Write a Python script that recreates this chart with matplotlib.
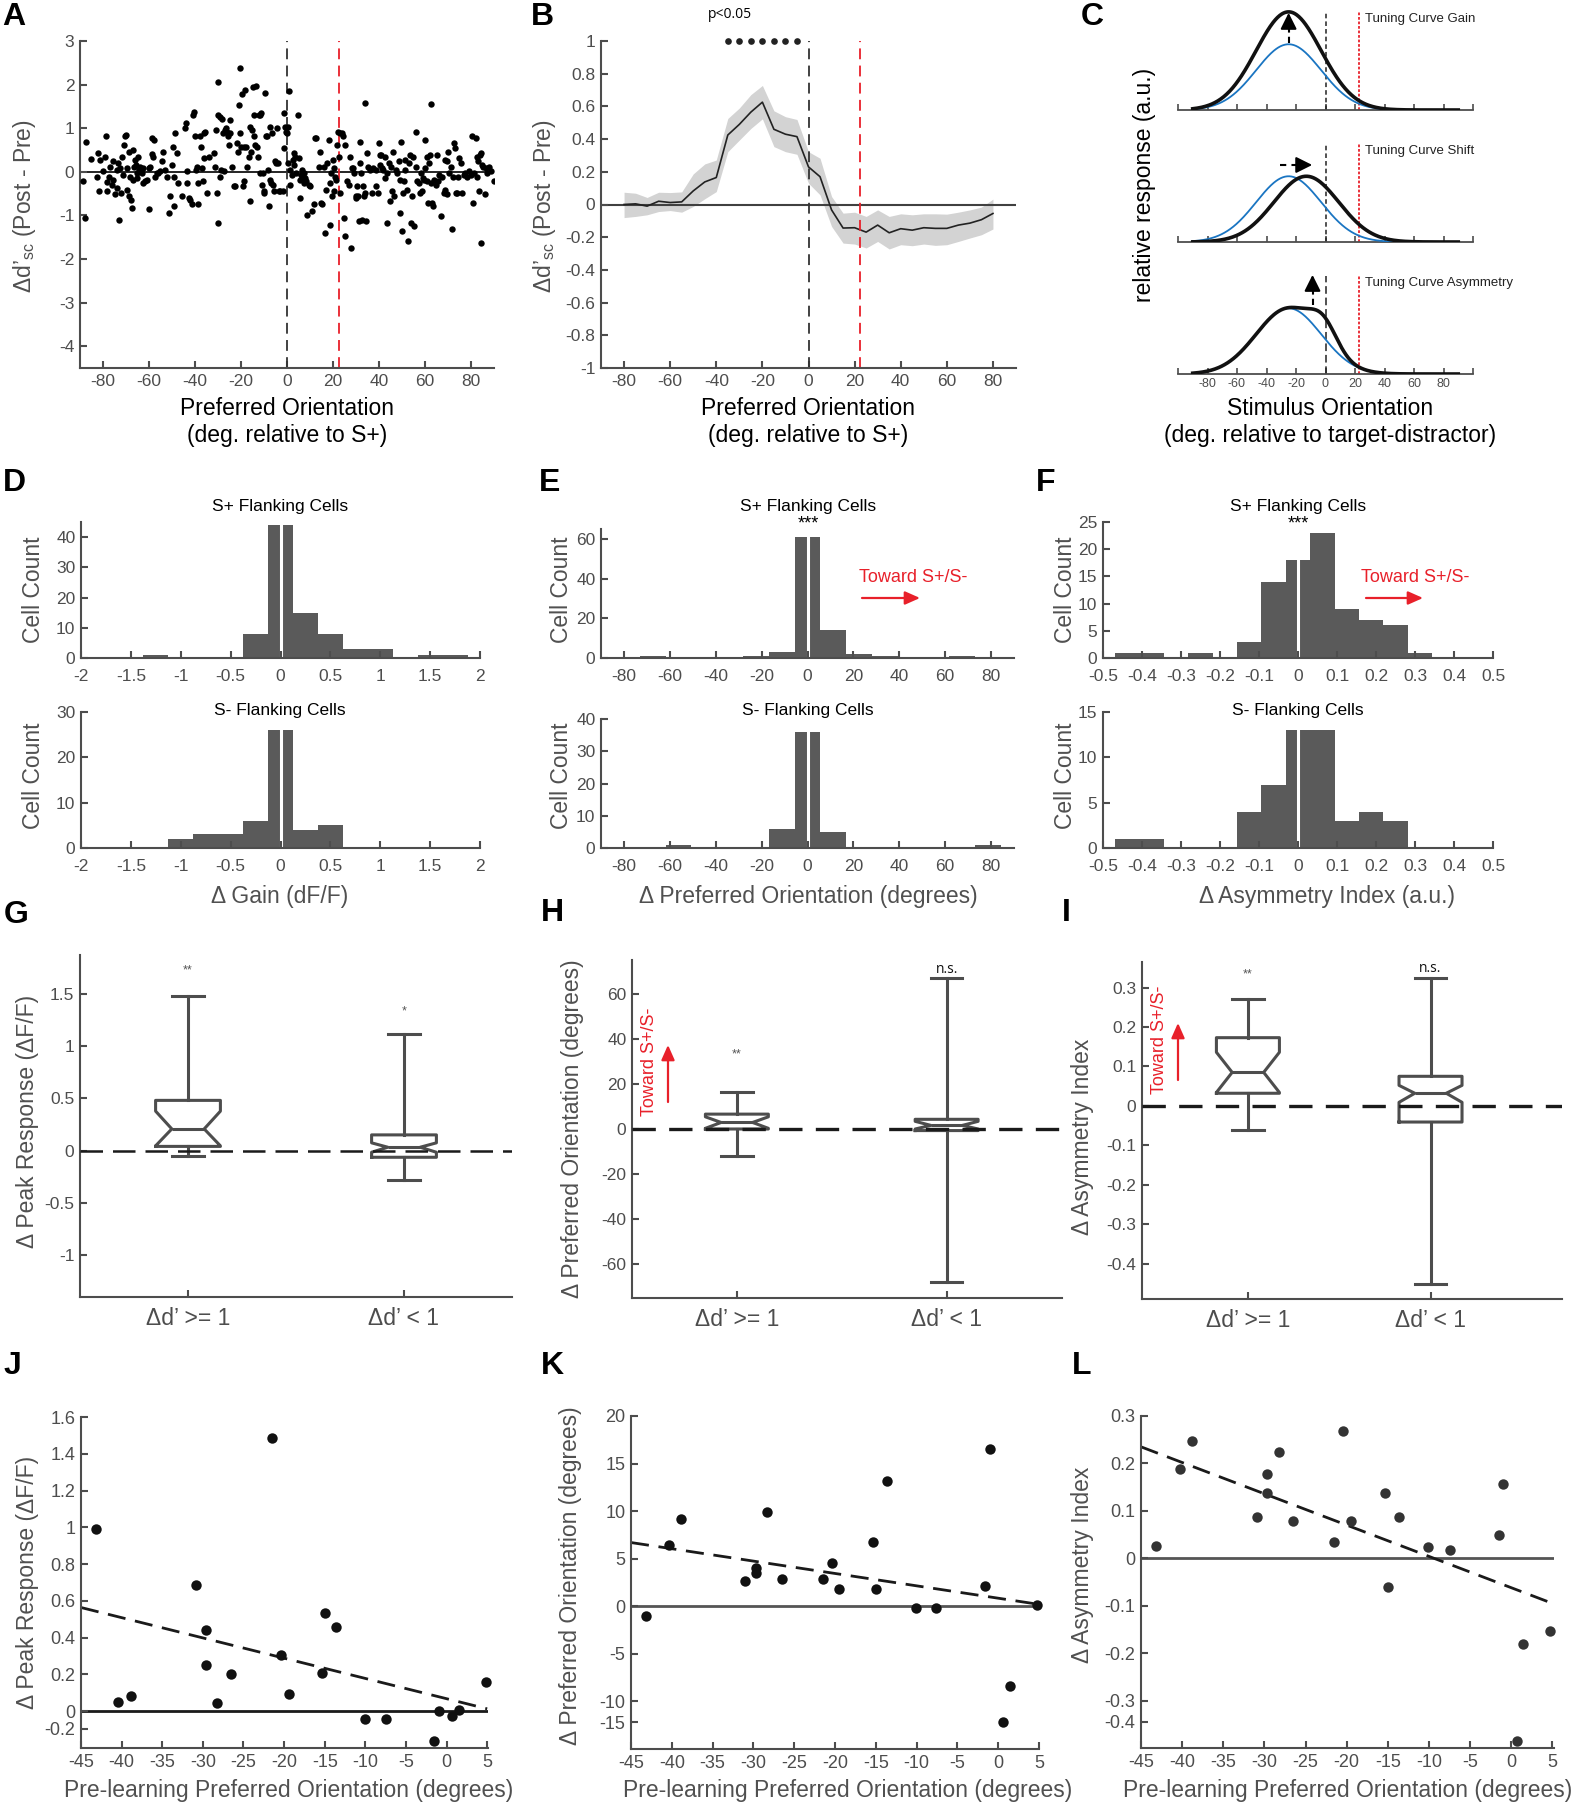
import numpy as np
import matplotlib
matplotlib.use('Agg')
import matplotlib.pyplot as plt
from matplotlib.ticker import FuncFormatter

plt.rcParams['font.family'] = ['Liberation Sans', 'DejaVu Sans']
plt.rcParams['axes.unicode_minus'] = False
plt.rcParams['mathtext.fontset'] = 'custom'
plt.rcParams['mathtext.rm'] = 'Liberation Sans'

""" **************************** data ****************************"""
# A: delta d' per cell vs preferred orientation
a_pref = [-88.5, -87.8, -87.4, -85.3, -82.7, -82.3, -81.6, -81.3, -79.8, -79.1, -78.7, -78.4, -78.1, -77.6,
          -76.9, -76.2, -75.8, -75.5, -74.7, -74.0, -73.7, -73.3, -73.0, -72.6, -72.3, -71.8, -71.1, -70.8,
          -70.4, -70.0, -69.7, -69.4, -68.9, -68.5, -68.2, -67.9, -67.5, -67.1, -66.8, -66.5, -66.0, -65.6,
          -65.3, -65.0, -64.6, -64.2, -63.9, -63.1, -62.7, -62.4, -61.7, -61.0, -60.2, -59.8, -59.5, -58.8,
          -58.5, -58.1, -57.8, -57.3, -56.6, -55.9, -55.2, -54.4, -54.0, -53.0, -52.2, -51.5, -50.8, -50.1,
          -49.6, -49.3, -49.1, -48.6, -47.9, -47.2, -45.7, -44.3, -43.8, -43.5, -43.3, -42.8, -42.1, -41.4,
          -40.9, -40.3, -39.9, -39.5, -39.2, -38.9, -38.5, -37.7, -37.4, -37.0, -36.6, -36.3, -36.0, -35.6,
          -34.8, -34.1, -31.9, -31.2, -30.8, -30.5, -30.2, -29.8, -29.8, -29.3, -29.0, -28.7, -28.3, -27.9,
          -27.3, -26.9, -26.4, -26.1, -25.8, -25.4, -25.0, -24.7, -23.9, -23.2, -22.5, -21.8, -21.5, -21.0,
          -20.6, -20.3, -20.0, -19.6, -19.2, -18.9, -18.6, -18.1, -17.7, -17.4, -16.7, -16.3, -16.0, -15.7,
          -15.2, -14.8, -14.5, -14.2, -13.8, -13.4, -13.1, -12.8, -12.3, -11.9, -11.6, -11.3, -10.9, -10.4,
          -10.2, -9.9, -9.4, -9.0, -8.7, -8.4, -8.0, -7.5, -7.3, -7.0, -6.5, -6.1, -5.8, -5.1, -4.6, -4.4,
          -4.1, -3.6, -2.9, -1.7, -1.5, -1.2, -0.7, -0.3, 0.0, 0.3, 0.6, 0.9, 1.2, 1.5, 2.2, 2.6, 2.9, 3.2,
          3.6, 4.1, 4.6, 5.1, 5.5, 5.8, 6.1, 6.5, 7.0, 7.3, 7.5, 8.0, 8.4, 8.7, 9.4, 10.2, 10.9, 11.6, 12.3,
          12.8, 13.8, 14.5, 14.8, 15.2, 16.0, 16.7, 17.1, 17.4, 18.1, 18.6, 18.9, 19.2, 19.6, 20.0, 20.3,
          20.6, 21.0, 21.5, 21.8, 22.1, 22.5, 22.9, 23.2, 23.9, 24.4, 24.7, 25.1, 25.4, 26.1, 26.9, 27.6,
          27.9, 28.3, 28.7, 29.3, 29.8, 30.2, 30.5, 30.8, 31.2, 31.6, 31.9, 32.2, 32.7, 33.1, 33.4, 33.8,
          34.1, 34.4, 34.8, 35.1, 36.3, 37.0, 37.4, 38.5, 38.9, 39.5, 39.9, 40.3, 40.6, 40.9, 41.4, 41.8,
          42.4, 42.8, 43.3, 43.5, 44.3, 44.7, 45.0, 45.7, 46.2, 46.4, 47.2, 47.9, 48.6, 49.1, 49.3, 49.6,
          50.1, 50.5, 50.8, 51.1, 51.5, 52.0, 52.5, 53.0, 53.4, 54.0, 54.4, 54.9, 55.2, 55.9, 56.3, 56.6,
          57.3, 57.8, 58.3, 58.8, 59.2, 59.5, 59.8, 60.2, 60.7, 61.0, 61.2, 61.7, 62.1, 62.4, 62.7, 63.1,
          63.6, 63.9, 64.6, 65.3, 65.6, 66.0, 66.8, 67.5, 68.2, 68.5, 68.9, 69.4, 69.7, 70.0, 70.4, 71.1,
          71.8, 72.3, 72.6, 72.9, 73.3, 73.7, 74.3, 74.7, 75.5, 76.2, 76.9, 77.6, 78.4, 79.1, 79.8, 80.6,
          81.0, 81.3, 82.0, 82.4, 82.7, 83.0, 83.5, 83.7, 84.2, 84.5, 84.9, 85.3, 85.9, 86.4, 87.1, 87.8,
          88.5, 90.0]
a_dd = [-0.22, -1.06, 0.68, 0.30, -0.11, 0.43, -0.45, 0.27, 0.01, 0.35, 0.81, -0.24, -0.45, -0.11,
        0.12, -0.30, 0.24, -0.18, -0.52, -0.37, 0.05, 0.20, -1.10, 0.08, -0.49, 0.35, -0.07, 0.62,
        0.81, 0.84, -0.41, 0.08, -0.56, 0.46, -0.11, -0.64, -0.83, -0.18, 0.50, 0.12, 0.27, 0.16,
        -0.14, -0.03, 0.35, 0.05, 0.12, -0.03, -0.26, 0.08, -0.22, -0.18, 0.08, -0.85, 0.12, 0.77,
        0.41, 0.35, 0.73, -0.11, -0.03, -0.03, 0.01, 0.24, 0.46, 0.05, -0.11, -0.94, -0.56, 0.16,
        0.58, -0.11, -0.79, 0.88, 0.43, -0.26, -0.56, 1.00, 1.11, 0.01, -0.26, -0.60, -0.64, -0.75,
        1.30, 1.38, 0.81, 0.05, 0.12, -0.75, -0.26, 0.81, 0.58, 0.08, -0.22, 0.88, 0.31, 0.92,
        -0.49, 0.35, 0.43, 0.12, 0.96, -0.49, -1.17, 2.06, 1.30, -0.11, 1.26, 0.05, 1.22, 0.88,
        0.01, 0.96, 1.00, 0.92, 0.81, 0.62, 1.19, 0.88, 0.12, -0.33, -0.33, 0.65, 0.46, 1.53,
        2.37, 0.88, 0.58, 1.79, -0.33, 0.58, -0.22, 1.87, 0.58, 0.12, 0.35, -0.68, 1.03, 0.46,
        0.96, 1.95, 1.30, 0.81, 0.62, 1.96, 0.58, 0.35, 1.30, -0.03, 1.30, 1.34, -0.30, -0.03,
        -0.49, -0.45, 1.81, 0.81, 0.81, 0.05, -0.79, 1.03, -0.18, -0.26, 0.88, -0.30, -0.45, 0.24, 0.20, 1.00,
        0.20, -0.45, -0.45, -0.45, 1.34, 0.54, 1.03, 0.92, 0.88, 0.20, 1.03, 1.86, -0.30, 0.05, -0.07, 0.27, 0.43, 0.16,
        0.35, -0.03, 1.30, 0.31, -0.18, -0.60, -0.07, 0.05, -0.14, -0.03, -0.26, -0.14, -0.22, -0.98, -0.30, -0.33, -0.90, -0.75, 0.77,
        0.78, 0.12, 0.46, -0.71, -0.75, 0.12, -1.40, -0.41, 0.20, 0.73, -1.21, -0.26, -0.03, -0.56, 0.27, -0.45,
        0.08, -0.11, -0.18, 0.62, 0.92, 0.35, 0.88, -0.49, 0.88, 0.81, -1.06, -1.48, 0.62, -0.22, -0.30, 0.35,
        -1.74, 0.08, 0.08, -0.03, -0.56, -0.60, -0.33, -0.56, -1.13, 0.69, 0.20, -0.03, -1.10, -0.33, -0.56, 1.57,
        -0.49, -1.13, 0.43, 0.12, 0.05, -0.49, 0.08, 0.05, -0.33, -0.49, 0.65, 0.39, 0.16, 0.39, 0.08, 0.05,
        -0.14, 0.35, -0.03, -1.17, 0.20, -0.68, 0.12, -0.45, 0.46, -0.56, 0.05, -0.03, 0.24, -0.18, -0.94, 0.69,
        -1.36, -0.49, -0.22, 0.05, 0.27, -0.41, -1.59, 0.20, 0.39, -1.17, -0.56, 0.35, -1.25, 0.92, 0.12, -0.22,
        -0.26, -0.49, -0.03, -0.45, -0.14, -0.18, 0.73, 0.08, 0.35, -0.22, -0.71, 0.20, 0.39, -0.26, 1.55, -0.71,
        -0.79, -0.18, -0.30, 0.39, -0.22, -0.07, -1.02, -0.11, -0.49, 0.27, -0.41, 0.24, -0.52, 0.46, -0.03, 0.12,
        -1.32, -0.11, 0.65, 0.54, -0.49, -0.49, -0.11, 0.31, 0.20, -0.49, -0.07, -0.03, -0.11, 0.01, -0.07, 0.81,
        -0.71, -0.03, 0.77, -0.11, 0.35, 0.24, -0.45, 0.39, 0.43, -1.63, 0.16, 0.12, -0.52, 0.08, -0.03, 0.12,
        0.01, -0.22]

# B: mean +- sem of delta d' in 5 deg bins
b_ori = [-80, -75, -70, -65, -60, -55, -50, -45, -40, -35, -30, -25, -20, -15, -10, -5, 0,
         5, 10, 15, 20, 25, 30, 35, 40, 45, 50, 55, 60, 65, 70, 75, 80]
b_mean = [0.0, 0.004, -0.01, 0.02, 0.012, 0.016, 0.083, 0.138, 0.165, 0.425, 0.49, 0.565, 0.626,
          0.46, 0.43, 0.415, 0.23, 0.17, -0.033, -0.144, -0.142, -0.169, -0.126, -0.173, -0.148,
          -0.157, -0.142, -0.146, -0.146, -0.126, -0.114, -0.093, -0.055]
b_upper = [0.075, 0.069, 0.043, 0.075, 0.073, 0.077, 0.187, 0.248, 0.272, 0.526, 0.59, 0.672, 0.728,
           0.573, 0.537, 0.52, 0.323, 0.283, 0.049, -0.053, -0.047, -0.073, -0.033, -0.073, -0.057,
           -0.063, -0.057, -0.057, -0.059, -0.047, -0.033, -0.016, 0.033]
b_lower = [-0.08, -0.073, -0.063, -0.043, -0.037, -0.047, -0.012, 0.035, 0.079, 0.323, 0.394, 0.465,
           0.524, 0.354, 0.323, 0.307, 0.13, 0.059, -0.134, -0.236, -0.242, -0.266, -0.226, -0.272,
           -0.246, -0.252, -0.242, -0.25, -0.246, -0.226, -0.205, -0.185, -0.15]
b_sig = [-35, -30, -25, -20, -15, -10, -5]

# C: schematic tuning curves (gaussian parameters)
c_pre_center, c_pre_amp, c_width = -25, 0.67, 22
c_gain_amp = 1.0
c_shift_center = -13
c_bump_center, c_bump_amp, c_bump_width = -1, 0.22, 9

# D/E/F: histograms (bin centres, counts)
d_bw = 0.25
d_top_c = [-1.25, -0.25, 0, 0.25, 0.5, 0.75, 1.0, 1.5, 1.75]
d_top_n = [1, 8, 44, 15, 8, 3, 3, 1, 1]
d_bot_c = [-1.0, -0.75, -0.5, -0.25, 0, 0.25, 0.5]
d_bot_n = [2, 3, 3, 6, 26, 4, 5]
e_bw = 11.25
e_top_c = [-67.5, -22.5, -11.25, 0, 11.25, 22.5, 33.75, 67.5]
e_top_n = [1, 1, 3, 61, 14, 2, 1, 1]
e_bot_c = [-56.25, -11.25, 0, 11.25, 78.75]
e_bot_n = [1, 6, 36, 5, 1]
f_bw = 0.0625
f_top_c = [-0.4375, -0.375, -0.25, -0.125, -0.0625, 0, 0.0625, 0.125, 0.1875, 0.25, 0.3125]
f_top_n = [1, 1, 1, 3, 14, 18, 23, 9, 7, 6, 1]
f_bot_c = [-0.4375, -0.375, -0.125, -0.0625, 0, 0.0625, 0.125, 0.1875, 0.25]
f_bot_n = [1, 1, 4, 7, 13, 13, 3, 4, 3]

# G/H/I: notched box summaries for [d' >= 1, d' < 1]
box_labels = ['Δd’ >= 1', 'Δd’ < 1']
g_q1, g_q3, g_med = [0.04, -0.064], [0.48, 0.15], [0.207, 0.032]
g_cilo, g_cihi = [0.045, -0.016], [0.377, 0.074]
g_lo, g_hi = [-0.05, -0.28], [1.48, 1.11]
h_q1, h_q3, h_med = [0.0, -0.7], [6.6, 4.3], [2.9, 1.6]
h_cilo, h_cihi = [0.3, 0.0], [5.4, 3.4]
h_lo, h_hi = [-12.2, -68.1], [16.5, 67.2]
i_q1, i_q3, i_med = [0.032, -0.041], [0.173, 0.075], [0.085, 0.032]
i_cilo, i_cihi = [0.034, 0.009], [0.136, 0.052]
i_lo, i_hi = [-0.061, -0.452], [0.27, 0.325]

# J/K/L: per-cell change vs pre-learning preferred orientation
j_x = [-43.2, -40.4, -38.8, -30.9, -29.6, -29.6, -28.3, -26.5, -21.5, -20.4, -19.4, -15.0, -15.3,
       -13.6, -10.0, -7.5, -1.5, -0.9, 0.7, 1.5, 4.8]
j_y = [0.99, 0.049, 0.081, 0.685, 0.44, 0.253, 0.042, 0.2, 1.486, 0.306, 0.094, 0.532, 0.21,
       0.459, -0.045, -0.042, -0.163, 0.0, -0.024, 0.004, 0.161]
k_x = [-43.2, -40.3, -38.9, -31.0, -29.7, -29.7, -28.3, -26.5, -21.5, -20.4, -19.5, -15.3, -15.0,
       -13.6, -10.1, -7.6, -1.6, -1.0, 0.6, 1.4, 4.7]
k_y = [-1.0, 6.4, 9.16, 2.63, 4.04, 3.54, 9.9, 2.9, 2.9, 4.56, 1.86, 6.8, 1.86,
       13.16, -0.18, -0.18, 2.14, 16.5, -12.2, -8.4, 0.1]
l_x = [-43.2, -40.3, -38.85, -30.9, -29.7, -29.7, -28.25, -26.5, -21.5, -20.4, -19.5, -15.3, -15.0,
       -13.6, -10.1, -7.5, -1.5, -1.0, 0.75, 1.45, 4.7]
l_y = [0.026, 0.1875, 0.247, 0.087, 0.178, 0.138, 0.225, 0.079, 0.035, 0.269, 0.079, 0.138, -0.06,
       0.086, 0.024, 0.017, 0.05, 0.157, -0.385, -0.18, -0.153]
fit_x = [-45, 5]
j_fit = [0.564, 0.013]
k_fit = [6.7, 0.2]
l_fit = [0.235, -0.095]

""" **************************** figure helpers ****************************"""
W, H = 1593, 1803
GRAY = '#4d4d4d'
LAB = '#505050'
BAR = '#5a5a5a'
RED = '#e8202a'
BLUE = '#1a75c2'

fig = plt.figure(figsize=(W / 100, H / 100), dpi=100)


def px_ax(l, t, r, b):
    return fig.add_axes([l / W, 1 - b / H, (r - l) / W, (b - t) / H])


def fpos(x, y):
    return (x / W, 1 - y / H)


def ftext(x, y, s, **kw):
    kw.setdefault('ha', 'center')
    kw.setdefault('va', 'center')
    return fig.text(x / W, 1 - y / H, s, **kw)


def farrow(x0, y0, x1, y1, color=RED):
    fig.add_artist(matplotlib.patches.FancyArrowPatch(
        fpos(x0, y0), fpos(x1, y1), transform=fig.transFigure,
        arrowstyle='-|>,head_width=4,head_length=9', color=color, lw=1.6,
        shrinkA=0, shrinkB=0))


fmt = FuncFormatter(lambda v, p: f'{v:g}')


def style(ax, size=12.5):
    ax.spines['top'].set_visible(False)
    ax.spines['right'].set_visible(False)
    for s in ('left', 'bottom'):
        ax.spines[s].set_color(GRAY)
        ax.spines[s].set_linewidth(1.5)
    ax.tick_params(direction='in', colors=GRAY, labelsize=size, width=1.5, length=5, pad=4)
    ax.xaxis.set_major_formatter(fmt)
    ax.yaxis.set_major_formatter(fmt)


letters = [('A', 14, 17), ('B', 542, 17), ('C', 1092, 17),
           ('D', 14, 483), ('E', 550, 483), ('F', 1046, 483),
           ('G', 16, 915), ('H', 552, 913), ('I', 1066, 913),
           ('J', 12, 1366), ('K', 552, 1366), ('L', 1082, 1366)]
for s, x, y in letters:
    ftext(x, y, s, fontsize=23, fontweight='bold', color='k')

""" **************************** A ****************************"""
axA = px_ax(80, 41, 494, 368)
style(axA)
axA.axhline(0, color='k', lw=1.2, zorder=1)
axA.axvline(0, color='#333333', lw=1.3, dashes=(6, 3.5))
axA.axvline(22.5, color=RED, lw=1.3, dashes=(6, 3.5))
axA.plot(a_pref, a_dd, 'o', color='k', ms=4.6, mec='none', zorder=3)
axA.set_xlim(-90, 90)
axA.set_ylim(-4.5, 3)
axA.set_xticks([-80, -60, -40, -20, 0, 20, 40, 60, 80])
axA.set_yticks([-4, -3, -2, -1, 0, 1, 2, 3])
ftext(25, 206, 'Δd’$_{\\mathregular{sc}}$ (Post - Pre)', fontsize=16.5, rotation=90, color=LAB)
ftext(287, 422, 'Preferred Orientation\n(deg. relative to S+)', fontsize=16.5, linespacing=1.25)

""" **************************** B ****************************"""
axB = px_ax(601, 41, 1016, 368)
style(axB)
axB.fill_between(b_ori, b_lower, b_upper, color='#d3d3d3', lw=0)
axB.plot(b_ori, b_mean, color='#222222', lw=1.2)
axB.axhline(0, color='#404040', lw=1.5, zorder=1)
axB.axvline(0, color='#333333', lw=1.3, dashes=(6, 3.5))
axB.axvline(22.5, color=RED, lw=1.3, dashes=(6, 3.5))
axB.plot(b_sig, [1.0] * len(b_sig), 'o', color='#222222', ms=4.8, mec='none', clip_on=False)
axB.set_xlim(-90, 90)
axB.set_ylim(-1, 1)
axB.set_xticks([-80, -60, -40, -20, 0, 20, 40, 60, 80])
axB.set_yticks([-1, -0.8, -0.6, -0.4, -0.2, 0, 0.2, 0.4, 0.6, 0.8, 1])
ftext(730, 15, 'p<0.05', fontsize=10, family=['Open Sans', 'DejaVu Sans'])
ftext(545, 206, 'Δd’$_{\\mathregular{sc}}$ (Post - Pre)', fontsize=16.5, rotation=90, color=LAB)
ftext(808, 422, 'Preferred Orientation\n(deg. relative to S+)', fontsize=16.5, linespacing=1.25)

""" **************************** C ****************************"""
c_x = np.linspace(-90, 90, 361)


def gauss(x, c, a, w):
    return a * np.exp(-(x - c) ** 2 / (2 * w ** 2))


pre = gauss(c_x, c_pre_center, c_pre_amp, c_width)
c_post = [gauss(c_x, c_pre_center, c_gain_amp, c_width),
          gauss(c_x, c_shift_center, c_pre_amp, c_width),
          pre + gauss(c_x, c_bump_center, c_bump_amp, c_bump_width)]
c_names = ['Tuning Curve Gain', 'Tuning Curve Shift', 'Tuning Curve Asymmetry']
c_rows = [(5, 110), (137, 242), (269, 374)]
for i in range(3):
    ax = px_ax(1178, c_rows[i][0], 1473, c_rows[i][1])
    ax.set_xlim(-100, 100)
    ax.set_ylim(0, 1.07)
    for s in ('top', 'right', 'left'):
        ax.spines[s].set_visible(False)
    ax.spines['bottom'].set_color(GRAY)
    ax.spines['bottom'].set_linewidth(1.3)
    ax.set_yticks([])
    ax.set_xticks([-80, -60, -40, -20, 0, 20, 40, 60, 80])
    ax.set_xticks([-100, 100], minor=True)
    ax.tick_params(axis='x', which='both', direction='in', colors=GRAY, labelsize=9, width=1.2,
                   length=4, pad=3)
    ax.xaxis.set_major_formatter(fmt)
    if i < 2:
        ax.set_xticklabels([])
    ax.plot(c_x, pre, color=BLUE, lw=1.3, zorder=3)
    ax.plot(c_x, c_post[i], color='#111111', lw=2.6, zorder=4)
    ax.axvline(0, ymax=0.93, color='#222222', lw=1.1, dashes=(3, 2) if i < 2 else (5, 2.5))
    ax.axvline(22.5, ymax=0.93, color=RED, lw=1.3, dashes=(1.5, 1))
    ax.text(27, 0.867, c_names[i], transform=ax.get_xaxis_transform(), fontsize=9.5,
            va='center', color='#222222')
    if i == 0:
        ax.plot([-25, -25], [0.68, 0.86], color='k', lw=1.5, dashes=(3, 2))
        ax.annotate('', xy=(-25, 0.99), xytext=(-25, 0.84),
                    arrowprops=dict(arrowstyle='-|>,head_width=0.35,head_length=0.7', color='k',
                                    lw=1.5, shrinkA=0, shrinkB=0, mutation_scale=14))
    elif i == 1:
        ax.plot([-31, -17], [0.785, 0.785], color='k', lw=1.5, dashes=(3, 2.5))
        ax.annotate('', xy=(-9, 0.785), xytext=(-19, 0.785),
                    arrowprops=dict(arrowstyle='-|>,head_width=0.35,head_length=0.7', color='k',
                                    lw=1.5, shrinkA=0, shrinkB=0, mutation_scale=14))
    else:
        ax.plot([-8.8, -8.8], [0.70, 0.87], color='k', lw=1.5, dashes=(3, 2))
        ax.annotate('', xy=(-8.8, 1.01), xytext=(-8.8, 0.86),
                    arrowprops=dict(arrowstyle='-|>,head_width=0.35,head_length=0.7', color='k',
                                    lw=1.5, shrinkA=0, shrinkB=0, mutation_scale=14),
                    annotation_clip=False)
ftext(1145, 185, 'relative response (a.u.)', fontsize=16.5, rotation=90)
ftext(1330, 422, 'Stimulus Orientation\n(deg. relative to target-distractor)', fontsize=16.5,
      linespacing=1.25)

""" **************************** D / E / F histograms ****************************"""
hist_specs = [
    ((81, 522, 480, 658), d_top_c, d_top_n, d_bw, (-2, 2), [-2, -1.5, -1, -0.5, 0, 0.5, 1, 1.5, 2], 45, [0, 10, 20, 30, 40]),
    ((81, 712, 480, 848), d_bot_c, d_bot_n, d_bw, (-2, 2), [-2, -1.5, -1, -0.5, 0, 0.5, 1, 1.5, 2], 30, [0, 10, 20, 30]),
    ((601, 529, 1014, 658), e_top_c, e_top_n, e_bw, (-90, 90), [-80, -60, -40, -20, 0, 20, 40, 60, 80], 65, [0, 20, 40, 60]),
    ((601, 719, 1014, 848), e_bot_c, e_bot_n, e_bw, (-90, 90), [-80, -60, -40, -20, 0, 20, 40, 60, 80], 40, [0, 10, 20, 30, 40]),
    ((1103, 522, 1493, 658), f_top_c, f_top_n, f_bw, (-0.5, 0.5), [-0.5, -0.4, -0.3, -0.2, -0.1, 0, 0.1, 0.2, 0.3, 0.4, 0.5], 25, [0, 5, 10, 15, 20, 25]),
    ((1103, 712, 1493, 848), f_bot_c, f_bot_n, f_bw, (-0.5, 0.5), [-0.5, -0.4, -0.3, -0.2, -0.1, 0, 0.1, 0.2, 0.3, 0.4, 0.5], 15, [0, 5, 10, 15]),
]
for box, cen, cnt, bw, xl, xt, ymax, yt in hist_specs:
    ax = px_ax(*box)
    style(ax)
    ax.tick_params(axis='x', pad=8)
    ax.bar(cen, cnt, width=bw, color=BAR, lw=0, zorder=1)
    ax.axvline(0, color='white', lw=2.2, zorder=1.5)
    ax.set_xlim(*xl)
    ax.set_ylim(0, ymax)
    ax.set_xticks(xt)
    ax.set_yticks(yt)

for x in (280, 808, 1298):
    ftext(x, 506, 'S+ Flanking Cells', fontsize=12.5)
    ftext(x, 710, 'S- Flanking Cells', fontsize=12.5)
ftext(808, 524, '***', fontsize=13)
ftext(1298, 524, '***', fontsize=13)
ftext(913, 577, 'Toward S+/S-', fontsize=13, color=RED)
farrow(862, 598, 920, 598)
ftext(1415, 577, 'Toward S+/S-', fontsize=13, color=RED)
farrow(1366, 598, 1423, 598)
for x in (33, 561, 1065):
    ftext(x, 590, 'Cell Count', fontsize=16.5, rotation=90, color=LAB)
    ftext(x, 776, 'Cell Count', fontsize=16.5, rotation=90, color=LAB)
ftext(280, 897, 'Δ Gain (dF/F)', fontsize=16.5, color=LAB)
ftext(808, 897, 'Δ Preferred Orientation (degrees)', fontsize=16.5, color=LAB)
ftext(1327, 897, 'Δ Asymmetry Index (a.u.)', fontsize=16.5, color=LAB)

""" **************************** G / H / I boxplots ****************************"""


def box_panel(ax, q1, q3, med, cilo, cihi, lo, hi, width, zero_lw, zero_dash):
    stats = []
    for k in range(2):
        stats.append(dict(q1=q1[k], q3=q3[k], med=med[k], cilo=cilo[k], cihi=cihi[k],
                          whislo=lo[k], whishi=hi[k], fliers=[]))
    ax.axhline(0, color='#1a1a1a', lw=zero_lw, dashes=zero_dash, zorder=3)
    lp = dict(color=GRAY, lw=2.2)
    ax.bxp(stats, positions=[1, 2], widths=width, shownotches=True, showfliers=False,
           boxprops=lp, whiskerprops=lp, capprops=lp, medianprops=lp)
    ax.set_xticks([1, 2], box_labels)
    ax.tick_params(axis='x', labelsize=16.5, pad=7)


axG = px_ax(80, 955, 512, 1297)
style(axG)
box_panel(axG, g_q1, g_q3, g_med, g_cilo, g_cihi, g_lo, g_hi, 0.3, 1.8, (9, 4))
axG.set_xlim(0.5, 2.5)
axG.set_ylim(-1.4, 1.87)
axG.set_yticks([-1, -0.5, 0, 0.5, 1, 1.5])
axG.text(1, 1.72, '**', ha='center', va='center', fontsize=9, color='#555555')
axG.text(2, 1.33, '*', ha='center', va='center', fontsize=9, color='#555555')
ftext(28, 1121, 'Δ Peak Response (ΔF/F)', fontsize=16.5, rotation=90, color=LAB)

axH = px_ax(632, 960, 1062, 1298)
style(axH)
box_panel(axH, h_q1, h_q3, h_med, h_cilo, h_cihi, h_lo, h_hi, 0.3, 2.4, (7, 4))
axH.set_xlim(0.5, 2.55)
axH.set_ylim(-75, 75)
axH.set_yticks([-60, -40, -20, 0, 20, 40, 60])
axH.text(1, 33, '**', ha='center', va='center', fontsize=9, color='#555555')
axH.text(2, 71, 'n.s.', ha='center', va='center', fontsize=10, color='#111111',
         family=['Open Sans', 'DejaVu Sans'])
ftext(572, 1129, 'Δ Preferred Orientation (degrees)', fontsize=16.5, rotation=90, color=LAB)
ftext(650, 1062, 'Toward S+/S-', fontsize=13, color=RED, rotation=90)
farrow(668, 1102, 668, 1045)

axI = px_ax(1142, 962, 1562, 1299)
style(axI)
box_panel(axI, i_q1, i_q3, i_med, i_cilo, i_cihi, i_lo, i_hi, 0.345, 2.4, (7, 4))
axI.set_xlim(0.42, 2.72)
axI.set_ylim(-0.49, 0.365)
axI.set_yticks([-0.4, -0.3, -0.2, -0.1, 0, 0.1, 0.2, 0.3])
axI.text(1, 0.334, '**', ha='center', va='center', fontsize=9, color='#555555')
axI.text(2, 0.348, 'n.s.', ha='center', va='center', fontsize=10, color='#111111',
         family=['Open Sans', 'DejaVu Sans'])
ftext(1083, 1137, 'Δ Asymmetry Index', fontsize=16.5, rotation=90, color=LAB)
ftext(1160, 1040, 'Toward S+/S-', fontsize=13, color=RED, rotation=90)
farrow(1178, 1080, 1178, 1023)

""" **************************** J / K / L scatter ****************************"""
scat_specs = [
    ((81, 1417, 488, 1748), j_x, j_y, j_fit, 5.1, (-0.2, 1.6),
     [-0.095, 0, 0.2, 0.4, 0.6, 0.8, 1, 1.2, 1.4, 1.6],
     ['-0.2', '0', '0.2', '0.4', '0.6', '0.8', '1', '1.2', '1.4', '1.6'], '#111111', '#1a1a1a',
     (28, 1582), 'Δ Peak Response (ΔF/F)', 289),
    ((631, 1416, 1039, 1749), k_x, k_y, k_fit, 5.0, (-15, 20),
     [-12.2, -10, -5, 0, 5, 10, 15, 20],
     ['-15', '-10', '-5', '0', '5', '10', '15', '20'], '#111111', '#555555',
     (570, 1576), 'Δ Preferred Orientation (degrees)', 848),
    ((1141, 1416, 1554, 1748), l_x, l_y, l_fit, 5.2, (-0.4, 0.3),
     [-0.345, -0.3, -0.2, -0.1, 0, 0.1, 0.2, 0.3],
     ['-0.4', '-0.3', '-0.2', '-0.1', '0', '0.1', '0.2', '0.3'], '#333333', '#555555',
     (1083, 1565), 'Δ Asymmetry Index', 1348),
]
for box, xs, ys, fit, xmax, yl, yt, ytl, mc, zc, ylab_pos, ylab, xlab_x in scat_specs:
    ax = px_ax(*box)
    style(ax, size=13)
    ax.plot([-45, xmax], [0, 0], color=zc, lw=2, zorder=1)
    ax.plot(fit_x, fit, color='#1a1a1a', lw=2, dashes=(6.5, 3.5), zorder=2)
    ax.plot(xs, ys, 'o', color=mc, ms=7.5, mec='none', zorder=3, clip_on=False)
    ax.set_xlim(-45, xmax)
    ax.set_ylim(*yl)
    ax.set_xticks([-45, -40, -35, -30, -25, -20, -15, -10, -5, 0, 5])
    ax.set_yticks(yt, ytl)
    ftext(ylab_pos[0], ylab_pos[1], ylab, fontsize=16.5, rotation=90, color=LAB)
    ftext(xlab_x, 1790, 'Pre-learning Preferred Orientation (degrees)', fontsize=16.5, color=LAB)

fig.savefig('out.png', dpi=100)
